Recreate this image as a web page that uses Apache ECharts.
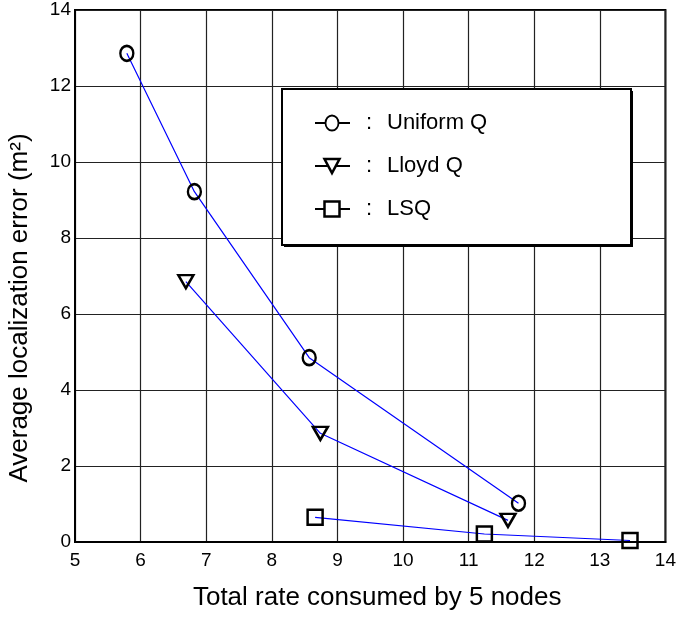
<!DOCTYPE html>
<html>
<head>
<meta charset="utf-8">
<script src="https://cdn.jsdelivr.net/npm/echarts@6/dist/echarts.min.js"></script>
<style>
  html, body { margin: 0; padding: 0; background: #fff; }
  #chart { width: 679px; height: 619px; }
</style>
</head>
<body>
<div id="chart"></div>
<script>
// Average localization error vs. total rate for three quantizers
const uniformX = [5.79, 6.82, 8.57, 11.76];
const uniformY = [12.86, 9.22, 4.85, 1.02];
const lloydX = [6.69, 8.74, 11.60];
const lloydY = [6.85, 2.86, 0.57];
const lsqX = [8.66, 11.24, 13.46];
const lsqY = [0.65, 0.21, 0.04];

const legendNames = ['Uniform Q', 'Lloyd Q', 'LSQ'];
const xTitle = 'Total rate consumed by 5 nodes';
const yTitle = 'Average localization error (m²)';

const FONT = '"Liberation Sans", Arial, Helvetica, sans-serif';
const TRIANGLE = 'path://M0,0L20,0L10,18Z';

function pairs(xs, ys) { return xs.map((x, i) => [x, ys[i]]); }

const markerStyle = { color: 'rgba(0,0,0,0)', borderColor: '#000', borderWidth: 2.5 };
const lineStyle = { color: '#0000ff', width: 1.2 };

const chart = echarts.init(document.getElementById('chart'), null, { renderer: 'canvas' });

// legend box drawn as graphic elements
const boxL = 282, boxT = 89, boxW = 349, boxH = 156;
const rowY = [123, 166, 209];
const symX = 332, segL = 315, segR = 350;
const graphics = [
  { type: 'rect', shape: { x: boxL, y: boxT, width: boxW, height: boxH },
    style: { fill: '#fff', stroke: '#000', lineWidth: 2 }, z: 10 },
  { type: 'line', shape: { x1: boxL + boxW + 1, y1: boxT + 2, x2: boxL + boxW + 1, y2: boxT + boxH + 1 },
    style: { stroke: '#000', lineWidth: 2 }, z: 11 },
  { type: 'line', shape: { x1: boxL + 2, y1: boxT + boxH + 1, x2: boxL + boxW + 2, y2: boxT + boxH + 1 },
    style: { stroke: '#000', lineWidth: 2 }, z: 11 },
  // rotated y-axis title
  { type: 'text', x: 20, y: 308, rotation: Math.PI / 2, z: 12,
    style: { text: yTitle, font: '26px ' + FONT, fill: '#000', align: 'center', verticalAlign: 'middle' } }
];
rowY.forEach((y, i) => {
  graphics.push({ type: 'line', shape: { x1: segL, y1: y, x2: segR, y2: y },
    style: { stroke: '#000', lineWidth: 2 }, z: 11 });
  if (i === 0) {
    graphics.push({ type: 'ellipse', shape: { cx: symX, cy: y, rx: 6.5, ry: 7.5 },
      style: { fill: '#fff', stroke: '#000', lineWidth: 1.8 }, z: 12 });
  } else if (i === 1) {
    graphics.push({ type: 'polygon', shape: { points: [[symX - 7.5, y - 7], [symX + 7.5, y - 7], [symX, y + 7]] },
      style: { fill: '#fff', stroke: '#000', lineWidth: 2.5 }, z: 12 });
  } else {
    graphics.push({ type: 'rect', shape: { x: symX - 7.5, y: y - 7.5, width: 15, height: 15 },
      style: { fill: '#fff', stroke: '#000', lineWidth: 2.5 }, z: 12 });
  }
  graphics.push({ type: 'text', x: 369, y: y, z: 12,
    style: { text: ':', font: '22px ' + FONT, fill: '#000', verticalAlign: 'middle', align: 'center' } });
  graphics.push({ type: 'text', x: 387, y: y, z: 12,
    style: { text: legendNames[i], font: '22px ' + FONT, fill: '#000', verticalAlign: 'middle' } });
});

chart.setOption({
  animation: false,
  backgroundColor: '#fff',
  textStyle: { fontFamily: FONT },
  grid: { left: 75, right: 13, top: 10, bottom: 77, show: true, borderColor: '#000', borderWidth: 2, containLabel: false },
  xAxis: {
    type: 'value', min: 5, max: 14, interval: 1,
    name: xTitle, nameLocation: 'middle', nameGap: 43,
    nameTextStyle: { fontSize: 26, color: '#000', fontFamily: FONT, padding: [0, 0, 0, 14] },
    axisLine: { show: true, onZero: false, lineStyle: { color: '#000', width: 2 } },
    axisTick: { show: false },
    axisLabel: { fontSize: 19, color: '#000', margin: 9, fontFamily: FONT },
    splitLine: { show: true, lineStyle: { color: '#222', width: 1.2 } }
  },
  yAxis: {
    type: 'value', min: 0, max: 14, interval: 2,
    axisLine: { show: true, lineStyle: { color: '#000', width: 2 } },
    axisTick: { show: false },
    axisLabel: { fontSize: 19, color: '#000', margin: 4, fontFamily: FONT },
    splitLine: { show: true, lineStyle: { color: '#222', width: 1.2 } }
  },
  series: [
    { name: legendNames[0], type: 'line', data: pairs(uniformX, uniformY),
      symbol: 'circle', symbolSize: [13, 15], itemStyle: markerStyle, lineStyle: lineStyle, z: 5 },
    { name: legendNames[1], type: 'line', data: pairs(lloydX, lloydY),
      symbol: TRIANGLE, symbolSize: [15, 13], itemStyle: markerStyle, lineStyle: lineStyle, z: 5 },
    { name: legendNames[2], type: 'line', data: pairs(lsqX, lsqY),
      symbol: 'rect', symbolSize: [15, 15], itemStyle: markerStyle, lineStyle: lineStyle, z: 5 }
  ],
  graphic: graphics
});
</script>
</body>
</html>
